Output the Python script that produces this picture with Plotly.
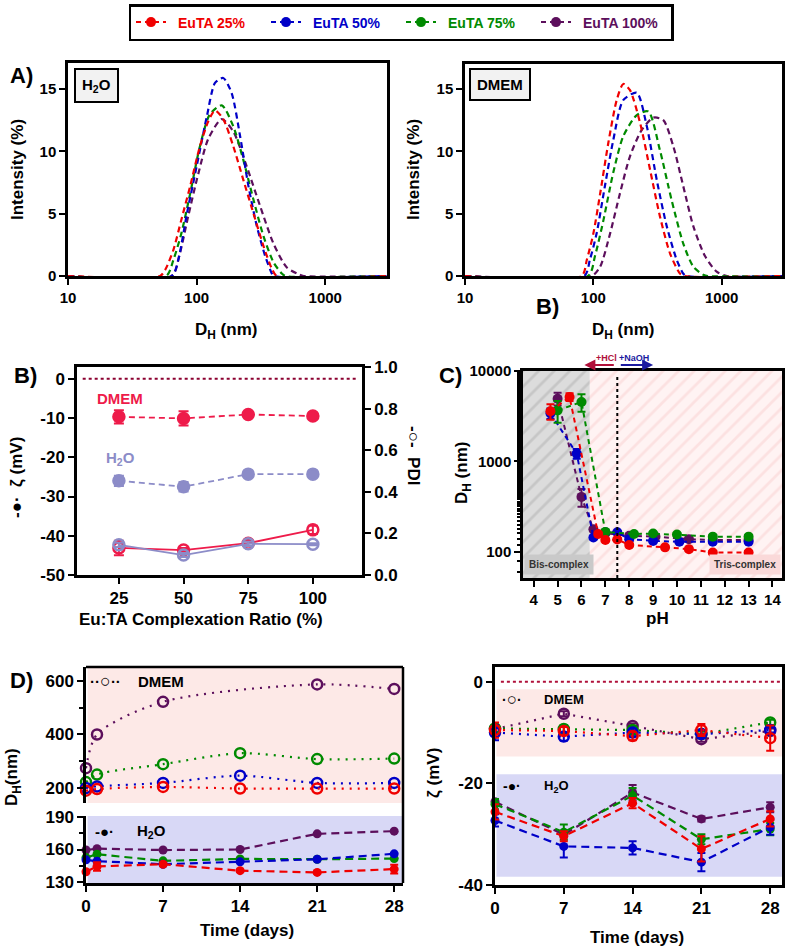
import plotly.graph_objects as go

W, H = 789, 949
FONT = "Liberation Sans, Arial, sans-serif"


def px(x):
    return x / W


def py(y):
    return 1 - y / H


RED = "#f00000"
BLUE = "#0000c8"
GREEN = "#008a00"
PURPLE = "#5c0f5c"
NAMES = ["EuTA 25%", "EuTA 50%", "EuTA 75%", "EuTA 100%"]
B_DMEM = "#ee1b4a"
B_H2O = "#8c8cc8"

# ---------------- Panel A : DLS size distributions ----------------
a_h2o_size_25 = [10, 52, 57, 66, 76, 89, 106, 123, 139, 161, 193, 231, 277, 331, 384, 420, 3000]
a_h2o_int_25 = [0, 0, 0.5, 2.1, 4.5, 7.2, 10.4, 12.4, 13.3, 12.6, 10.4, 7.7, 5.0, 2.4, 0.6, 0, 0]
a_h2o_size_50 = [10, 64, 72, 84, 100, 120, 139, 161, 187, 218, 253, 294, 341, 384, 395, 3000]
a_h2o_int_50 = [0, 0, 1.3, 5.0, 8.8, 12.8, 15.5, 15.9, 14.7, 11.2, 7.2, 4.0, 1.6, 0.2, 0, 0]
a_h2o_size_75 = [10, 58, 66, 76, 89, 106, 127, 157, 193, 231, 277, 331, 396, 459, 490, 3000]
a_h2o_int_75 = [0, 0, 1.3, 3.4, 6.6, 10.4, 13.0, 13.7, 12.0, 9.3, 6.1, 3.2, 1.1, 0.2, 0, 0]
a_h2o_size_100 = [10, 64, 74, 86, 103, 123, 157, 193, 245, 312, 396, 501, 617, 680, 3000]
a_h2o_int_100 = [0, 0, 1.8, 4.8, 8.2, 11.0, 12.6, 11.6, 8.8, 5.6, 2.6, 0.7, 0.15, 0, 0]

a_dmem_size_25 = [10, 81, 89, 100, 113, 131, 152, 171, 193, 231, 277, 330, 396, 473, 510, 3000]
a_dmem_int_25 = [0, 0, 1.3, 3.4, 6.6, 10.7, 14.1, 15.4, 14.9, 12.3, 8.5, 4.8, 1.8, 0.2, 0, 0]
a_dmem_size_50 = [10, 85, 94, 106, 123, 143, 171, 218, 261, 312, 373, 446, 501, 530, 3000]
a_dmem_int_50 = [0, 0, 1.3, 3.4, 7.2, 10.9, 14.1, 14.7, 12.0, 7.7, 4.0, 1.3, 0.2, 0, 0]
a_dmem_size_75 = [10, 91, 103, 120, 143, 171, 218, 268, 330, 407, 502, 601, 719, 780, 3000]
a_dmem_int_75 = [0, 0, 1.6, 4.5, 8.3, 11.2, 12.9, 13.2, 10.1, 6.1, 2.6, 0.75, 0.1, 0, 0]
a_dmem_size_100 = [10, 97, 113, 135, 161, 193, 238, 294, 351, 420, 502, 601, 741, 914, 1100, 3000]
a_dmem_int_100 = [0, 0, 0.75, 3.4, 6.6, 9.6, 11.7, 12.7, 12.5, 10.4, 7.2, 4.0, 1.6, 0.35, 0, 0]

# ---------------- Panel B : zeta & PDI vs complexation ratio ----------------
b_ratio = [25, 50, 75, 100]
b_zeta_dmem = [-9.7, -10.1, -9.1, -9.5]
b_zeta_dmem_err = [1.7, 1.8, 0.6, 0.5]
b_zeta_h2o = [-26.0, -27.5, -24.3, -24.3]
b_zeta_h2o_err = [1.3, 1.2, 0.5, 0.5]
b_pdi_dmem = [0.13, 0.12, 0.153, 0.217]
b_pdi_dmem_err = [0.035, 0.01, 0.015, 0.02]
b_pdi_h2o = [0.145, 0.096, 0.15, 0.148]
b_pdi_h2o_err = [0.01, 0.01, 0.01, 0.005]
b_zeta_ticks = [-50, -40, -30, -20, -10, 0]
b_zeta_ticklabels = ["-50", "-40", "-30", "-20", "-10", "0"]
b_pdi_ticks = [0, 0.2, 0.4, 0.6, 0.8, 1.0]

# ---------------- Panel C : DH vs pH ----------------
c_ph_25 = [4.7, 5.5, 6.7, 7.0, 7.5, 8.0, 9.5, 10.5, 11.5, 13.0]
c_dh_25 = [3580, 5160, 157, 135, 137, 119, 112, 107, 98, 98]
c_err_25 = [700, 500, 8, 5, 5, 5, 4, 4, 4, 4]
c_ph_50 = [4.7, 5.8, 6.5, 7.0, 7.5, 8.0, 9.0, 10.1, 11.5, 13.0]
c_dh_50 = [3400, 1220, 144, 164, 164, 138, 132, 129, 129, 129]
c_err_50 = [450, 150, 6, 6, 6, 5, 5, 5, 5, 5]
c_ph_75 = [5.0, 6.0, 7.0, 8.2, 9.0, 10.0, 11.5, 13.0]
c_dh_75 = [3670, 4540, 166, 157, 159, 155, 147, 147]
c_err_75 = [1000, 1000, 6, 5, 5, 5, 5, 5]
c_ph_100 = [5.0, 6.0, 6.5, 7.0, 8.0, 9.1, 10.5, 11.5, 13.0]
c_dh_100 = [4940, 405, 177, 160, 150, 147, 138, 135, 135]
c_err_100 = [800, 90, 8, 5, 5, 5, 5, 5, 5]
c_dh_ticks = [100, 1000, 10000]
c_dh_ticklabels = ["100", "1000", "10000"]
c_ph_ticks = [4, 5, 6, 7, 8, 9, 10, 11, 12, 13, 14]

# ---------------- Panel D : stability over time ----------------
d_days = [0, 1, 7, 14, 21, 28]
d_day_ticks = [0, 7, 14, 21, 28]
d_dmem_25 = [190, 196, 204, 198, 198, 198]
d_dmem_50 = [200, 206, 219, 246, 219, 219]
d_dmem_75 = [222, 250, 289, 330, 308, 310]
d_dmem_100 = [274, 400, 522, None, 587, 570]
d_h2o_25 = [139.4, 144.3, 146.4, 140.4, 138.8, 141.9]
d_h2o_25_err = [1.0, 4.0, 1.5, 1.0, 1.0, 4.0]
d_h2o_50 = [150.4, 149.2, 146.4, 148.6, 151.0, 156.0]
d_h2o_75 = [152.5, 155.6, 149.5, 151.3, 151.0, 151.6]
d_h2o_100 = [159.5, 160.8, 159.5, 160.0, 174.5, 177.0]

z_days = [0, 7, 14, 21, 28]
z_dmem_25 = [-9.5, -9.7, -10.7, -9.5, -11.1]
z_dmem_25_err = [1.5, 0.8, 0.8, 1.2, 2.5]
z_dmem_50 = [-10.0, -10.8, -10.0, -10.3, -9.5]
z_dmem_50_err = [1.5, 0.8, 0.8, 0.8, 0.5]
z_dmem_75 = [-9.2, -9.3, -9.5, -10.3, -8.0]
z_dmem_75_err = [0.8, 0.8, 0.8, 0.5, 0.5]
z_dmem_100 = [-9.3, -6.3, -8.7, -11.3, -9.7]
z_dmem_100_err = [0.5, 0.5, 0.5, 0.5, 0.5]
z_h2o_25 = [-25.6, -30.4, -23.9, -32.9, -27.0]
z_h2o_25_err = [1.5, 1.0, 1.0, 2.5, 1.5]
z_h2o_50 = [-27.3, -32.4, -32.7, -35.5, -28.6]
z_h2o_50_err = [1.2, 2.2, 1.3, 1.8, 1.5]
z_h2o_75 = [-24.1, -29.6, -22.4, -31.0, -29.0]
z_h2o_75_err = [1.0, 1.5, 1.5, 1.0, 1.2]
z_h2o_100 = [-23.6, -30.1, -21.8, -27.0, -24.7]
z_h2o_100_err = [0.5, 0.5, 1.5, 0.5, 1.0]
z_ticks = [-40, -20, 0]
z_ticklabels = ["-40", "-20", "0"]

# region limits (backgrounds)
C_XMIN, C_XMAX = 3.55, 14.4
C_YMIN, C_YMAX = 51, 10000
BIS_END = 6.35
PH_NEUTRAL = 7.5

fig = go.Figure()

# ---- Panel A traces ----
a_h2o = [(a_h2o_size_100, a_h2o_int_100, PURPLE), (a_h2o_size_75, a_h2o_int_75, GREEN),
         (a_h2o_size_50, a_h2o_int_50, BLUE), (a_h2o_size_25, a_h2o_int_25, RED)]
a_dmem = [(a_dmem_size_100, a_dmem_int_100, PURPLE), (a_dmem_size_75, a_dmem_int_75, GREEN),
          (a_dmem_size_50, a_dmem_int_50, BLUE), (a_dmem_size_25, a_dmem_int_25, RED)]
for series, (xa, ya) in [(a_h2o, ("x", "y")), (a_dmem, ("x2", "y2"))]:
    for sx, sy, col in series:
        fig.add_trace(go.Scatter(x=sx, y=sy, xaxis=xa, yaxis=ya, mode="lines",
                                 line=dict(color=col, width=2.2, dash="6px,4px", shape="spline", smoothing=0.7),
                                 showlegend=False, hoverinfo="skip"))

# ---- Panel B traces ----
for yv, ev, col, yax, sym, dash in [
    (b_zeta_dmem, b_zeta_dmem_err, B_DMEM, "y3", "circle", "6px,4px"),
    (b_zeta_h2o, b_zeta_h2o_err, B_H2O, "y3", "circle", "6px,4px"),
    (b_pdi_dmem, b_pdi_dmem_err, B_DMEM, "y4", "circle-open", "solid"),
    (b_pdi_h2o, b_pdi_h2o_err, B_H2O, "y4", "circle-open", "solid"),
]:
    fig.add_trace(go.Scatter(x=b_ratio, y=yv, xaxis="x3", yaxis=yax, mode="lines+markers",
                             line=dict(color=col, width=1.8, dash=dash),
                             marker=dict(color=col, size=11, symbol=sym, line=dict(width=2.5, color=col)),
                             error_y=dict(type="data", array=ev, color=col, thickness=2, width=5),
                             showlegend=False, cliponaxis=False))

# ---- Panel C backgrounds (hatched) ----
fig.add_trace(go.Scatter(x=[C_XMIN, BIS_END, BIS_END, C_XMIN, C_XMIN], y=[C_YMIN, C_YMIN, C_YMAX, C_YMAX, C_YMIN],
                         xaxis="x4", yaxis="y5", mode="lines", line=dict(width=0), fill="toself",
                         fillcolor="rgba(0,0,0,0)",
                         fillpattern=dict(shape="/", bgcolor="#dcdcdc", fgcolor="#b0b0b0", size=11, solidity=0.25),
                         showlegend=False, hoverinfo="skip"))
fig.add_trace(go.Scatter(x=[BIS_END, C_XMAX, C_XMAX, BIS_END, BIS_END], y=[C_YMIN, C_YMIN, C_YMAX, C_YMAX, C_YMIN],
                         xaxis="x4", yaxis="y5", mode="lines", line=dict(width=0), fill="toself",
                         fillcolor="rgba(0,0,0,0)",
                         fillpattern=dict(shape="/", bgcolor="#fff3f3", fgcolor="#f9cfcf", size=11, solidity=0.25),
                         showlegend=False, hoverinfo="skip"))

# ---- Panel C traces (also legend) ----
c_series = [(c_ph_100, c_dh_100, c_err_100, PURPLE, 3), (c_ph_50, c_dh_50, c_err_50, BLUE, 1),
            (c_ph_75, c_dh_75, c_err_75, GREEN, 2), (c_ph_25, c_dh_25, c_err_25, RED, 0)]
for cx, cy, ce, col, idx in c_series:
    fig.add_trace(go.Scatter(x=cx, y=cy, xaxis="x4", yaxis="y5", mode="lines+markers",
                             name=f"<span style='color:{col}'>\u2002{NAMES[idx]}</span>", legendrank=idx + 1,
                             line=dict(color=col, width=2, dash="5px,4px"),
                             marker=dict(color=col, size=10),
                             error_y=dict(type="data", array=ce, color=col, thickness=2, width=4),
                             showlegend=True, cliponaxis=False))

# ---- Panel D left ----
for yv, col in [(d_dmem_100, PURPLE), (d_dmem_75, GREEN), (d_dmem_50, BLUE), (d_dmem_25, RED)]:
    fig.add_trace(go.Scatter(x=d_days, y=yv, xaxis="x5", yaxis="y6", mode="lines+markers", connectgaps=True,
                             line=dict(color=col, width=2.2, dash="2px,6px", shape="spline", smoothing=0.8),
                             marker=dict(color=col, size=10, symbol="circle-open", line=dict(width=2.5, color=col)),
                             showlegend=False, cliponaxis=False))
d_h2o = [(d_h2o_100, None, PURPLE), (d_h2o_75, None, GREEN), (d_h2o_50, None, BLUE), (d_h2o_25, d_h2o_25_err, RED)]
for yv, ev, col in d_h2o:
    fig.add_trace(go.Scatter(x=d_days, y=yv, xaxis="x5", yaxis="y7", mode="lines+markers",
                             line=dict(color=col, width=2.2, dash="8px,5px"),
                             marker=dict(color=col, size=9),
                             error_y=dict(type="data", array=ev, color=col, thickness=2, width=4, visible=ev is not None),
                             showlegend=False, cliponaxis=False))

# ---- Panel D right ----
z_dmem = [(z_dmem_100, z_dmem_100_err, PURPLE), (z_dmem_75, z_dmem_75_err, GREEN),
          (z_dmem_50, z_dmem_50_err, BLUE), (z_dmem_25, z_dmem_25_err, RED)]
for yv, ev, col in z_dmem:
    fig.add_trace(go.Scatter(x=z_days, y=yv, xaxis="x6", yaxis="y8", mode="lines+markers",
                             line=dict(color=col, width=2.2, dash="2px,6px"),
                             marker=dict(color=col, size=10, symbol="circle-open", line=dict(width=2.5, color=col)),
                             error_y=dict(type="data", array=ev, color=col, thickness=2, width=4),
                             showlegend=False, cliponaxis=False))
z_h2o = [(z_h2o_100, z_h2o_100_err, PURPLE), (z_h2o_75, z_h2o_75_err, GREEN),
         (z_h2o_50, z_h2o_50_err, BLUE), (z_h2o_25, z_h2o_25_err, RED)]
for yv, ev, col in z_h2o:
    fig.add_trace(go.Scatter(x=z_days, y=yv, xaxis="x6", yaxis="y8", mode="lines+markers",
                             line=dict(color=col, width=2.2, dash="8px,5px"),
                             marker=dict(color=col, size=9),
                             error_y=dict(type="data", array=ev, color=col, thickness=2, width=4),
                             showlegend=False, cliponaxis=False))

# ---------------- axes ----------------
TICKF = dict(family=FONT, size=15, color="black", weight="bold")
TICKF17 = dict(family=FONT, size=17, color="black", weight="bold")


def ax(**kw):
    base = dict(ticks="outside", ticklen=6, tickwidth=2, tickcolor="black", showline=True, automargin=False,
                linecolor="black", linewidth=2.5, showgrid=False, zeroline=False, tickfont=TICKF)
    base.update(kw)
    return base


layout_axes = dict(
    xaxis=ax(domain=[px(68), px(387)], type="log", range=[1, 3.48], tickvals=[10, 100, 1000],
             ticktext=["10", "100", "1000"], anchor="y", mirror=True),
    yaxis=ax(domain=[py(276), py(63)], range=[0, 17.1], tickvals=[0, 5, 10, 15], anchor="x", mirror=True),
    xaxis2=ax(domain=[px(465), px(782)], type="log", range=[1, 3.47], tickvals=[10, 100, 1000],
              ticktext=["10", "100", "1000"], anchor="y2", mirror=True),
    yaxis2=ax(domain=[py(276), py(64)], range=[0, 17.0], tickvals=[0, 5, 10, 15], anchor="x2", mirror=True),
    xaxis3=ax(domain=[px(77), px(362)], range=[8.8, 119], tickvals=b_ratio, anchor="y3", mirror=True,
              tickfont=TICKF17),
    yaxis3=ax(domain=[py(575), py(367)], range=[-50, 3.0], tickvals=b_zeta_ticks, ticktext=b_zeta_ticklabels,
              anchor="x3", tickfont=TICKF17),
    yaxis4=ax(domain=[py(575), py(367)], range=[0, 1.0], tickvals=b_pdi_ticks, tickformat=".1f",
              anchor="x3", overlaying="y3", side="right", tickfont=TICKF17),
    xaxis4=ax(domain=[px(523), px(782)], range=[C_XMIN, C_XMAX], tickvals=c_ph_ticks, anchor="y5", mirror=True),
    yaxis5=ax(domain=[py(578), py(371)], type="log", range=[1.71, 4.0], tickvals=c_dh_ticks,
              ticktext=c_dh_ticklabels, anchor="x4", mirror=True,
              minor=dict(ticks="outside", ticklen=3, tickwidth=1.5, tickcolor="black")),
    xaxis5=ax(domain=[px(86), px(403)], range=[0, 28.8], tickvals=d_day_ticks, anchor="y7",
              tickfont=TICKF17),
    yaxis6=ax(domain=[py(803), py(667)], range=[144, 652], tickvals=[200, 400, 600], anchor="x5", tickfont=TICKF17,
              minor=dict(ticks="outside", ticklen=4, tickwidth=2, tickcolor="black", tickvals=[300, 500])),
    yaxis7=ax(domain=[py(883), py(816)], range=[129, 191], tickvals=[130, 160, 190], anchor="x5", tickfont=TICKF17,
              minor=dict(ticks="outside", ticklen=4, tickwidth=2, tickcolor="black", tickvals=[145, 175])),
    xaxis6=ax(domain=[px(495), px(782)], range=[0, 29.2], tickvals=z_days, anchor="y8", mirror=True,
              tickfont=TICKF17),
    yaxis8=ax(domain=[py(885), py(667)], range=[-40, 2.9], tickvals=z_ticks, ticktext=z_ticklabels,
              anchor="x6", mirror=True, tickfont=TICKF17),
)

# ---------------- shapes ----------------
shapes = [
    dict(type="rect", xref="x5 domain", yref="y6 domain", x0=0.005, x1=1, y0=0, y1=1, fillcolor="#fde9e7",
         line=dict(width=0), layer="below"),
    dict(type="rect", xref="x5 domain", yref="y7 domain", x0=0.005, x1=1, y0=0, y1=1, fillcolor="#d8d8f6",
         line=dict(width=0), layer="below"),
    dict(type="line", xref="paper", yref="paper", x0=px(86), x1=px(403), y0=py(667), y1=py(667),
         line=dict(color="black", width=2.5)),
    dict(type="line", xref="paper", yref="paper", x0=px(403), x1=px(403), y0=py(667), y1=py(883),
         line=dict(color="black", width=2.5)),
    dict(type="rect", xref="x6 domain", yref="y8", x0=0.005, x1=1, y0=-14.7, y1=-1.5, fillcolor="#fde9e7",
         line=dict(width=0), layer="below"),
    dict(type="rect", xref="x6 domain", yref="y8", x0=0.005, x1=1, y0=-38.4, y1=-18.2, fillcolor="#d8d8f6",
         line=dict(width=0), layer="below"),
    dict(type="line", xref="x6", yref="y8", x0=0.6, x1=29, y0=0, y1=0, line=dict(color="#b0103a", width=2, dash="dot")),
    dict(type="line", xref="x3", yref="y3", x0=11, x1=117, y0=0, y1=0, line=dict(color="#8b0030", width=2, dash="dot")),
    dict(type="line", xref="x4", yref="y5 domain", x0=PH_NEUTRAL, x1=PH_NEUTRAL, y0=0, y1=0.98,
         line=dict(color="black", width=2, dash="dot")),
]

# ---------------- annotations ----------------
anns = []


def ann(text, x, y, size=17, color="black", angle=0, xanchor="center", yanchor="middle", **kw):
    d = dict(text=text, x=px(x), y=py(y), xref="paper", yref="paper", showarrow=False, textangle=angle,
             xanchor=xanchor, yanchor=yanchor, font=dict(family=FONT, size=size, color=color, weight="bold"))
    d.update(kw)
    anns.append(d)


ann("A)", 21, 75, size=22)
ann("B)", 547, 306, size=22)
ann("B)", 25, 375, size=22)
ann("C)", 450, 375, size=22)
ann("D)", 21, 680, size=22)

ann("Intensity (%)", 17, 170, angle=-90)
ann("Intensity (%)", 413, 170, angle=-90)
ann("D<sub>H</sub> (nm)", 226, 331)
ann("D<sub>H</sub> (nm)", 623, 331)
ann("H<sub>2</sub>O", 74, 68, size=15, xanchor="left", yanchor="top", bgcolor="#f2f2f2", bordercolor="black",
    borderwidth=2, borderpad=6)
ann("DMEM", 469, 68, size=15, xanchor="left", yanchor="top", bgcolor="#f2f2f2", bordercolor="black",
    borderwidth=2, borderpad=6)

ann("-●·  ζ (mV)", 17, 478, angle=-90)
ann("-○-  PDI", 413, 455, angle=90)
ann("Eu:TA Complexation Ratio (%)", 201, 619)
ann("DMEM", 120, 398, size=15, color=B_DMEM)
ann("H<sub>2</sub>O", 120, 458, size=15, color=B_H2O)

ann("D<sub>H</sub> (nm)", 463, 473, angle=-90)
ann("pH", 657, 618)
ann("Bis-complex", 524, 575, size=10, color="#333333", xanchor="left", yanchor="bottom", bgcolor="#c9c9c9",
    borderpad=4)
ann("Tris-complex", 781, 575, size=10, color="#333333", xanchor="right", yanchor="bottom", bgcolor="#fad9d9",
    borderpad=4)
ann("+HCl", 606, 358, size=9, color="#b0103a")
ann("+NaOH", 634, 358, size=9, color="#1a1aa0")
anns.append(dict(x=6.12, y=py(365), xref="x4", yref="paper", ax=PH_NEUTRAL, ay=0, axref="x4", ayref="pixel",
                 showarrow=True, arrowhead=2, arrowsize=1, arrowwidth=2.2, arrowcolor="#b0103a", text=" "))
anns.append(dict(x=9.0, y=py(365), xref="x4", yref="paper", ax=PH_NEUTRAL, ay=0, axref="x4", ayref="pixel",
                 showarrow=True, arrowhead=2, arrowsize=1, arrowwidth=2.2, arrowcolor="#1a1aa0", text=" "))

ann("D<sub>H</sub>(nm)", 13, 777, angle=-90)
ann("Time (days)", 247, 930)
ann("ζ (mV)", 433, 773, angle=-90)
ann("Time (days)", 637, 937)
ann("··<span style='font-size:18px'>○</span>··", 105, 681, size=15)
ann("DMEM", 136, 681, size=15, xanchor="left")
ann("-●·", 104, 831, size=15)
ann("H<sub>2</sub>O", 135, 831, size=15, xanchor="left")
ann("·<span style='font-size:17px'>○</span>·", 512, 699, size=14)
ann("DMEM", 542, 699, size=13, xanchor="left")
ann("-●·", 512, 786, size=14)
ann("H<sub>2</sub>O", 542, 786, size=13, xanchor="left")

fig.update_layout(
    width=W, height=H, margin=dict(l=0, r=0, t=0, b=0, autoexpand=False),
    paper_bgcolor="white", plot_bgcolor="white",
    font=dict(family=FONT, size=15, color="black", weight="bold"),
    showlegend=True,
    legend=dict(orientation="h", x=px(401), xanchor="center", y=py(4), yanchor="top", bordercolor="black",
                borderwidth=2.5, bgcolor="white", font=dict(family=FONT, size=14, weight="bold"),
                entrywidth=90, entrywidthmode="pixels", itemwidth=30, traceorder="normal"),
    shapes=shapes, annotations=anns,
    **layout_axes,
)

fig.write_html("out.html", config={"displayModeBar": False},
               post_script="document.body.style.margin='0px';")
